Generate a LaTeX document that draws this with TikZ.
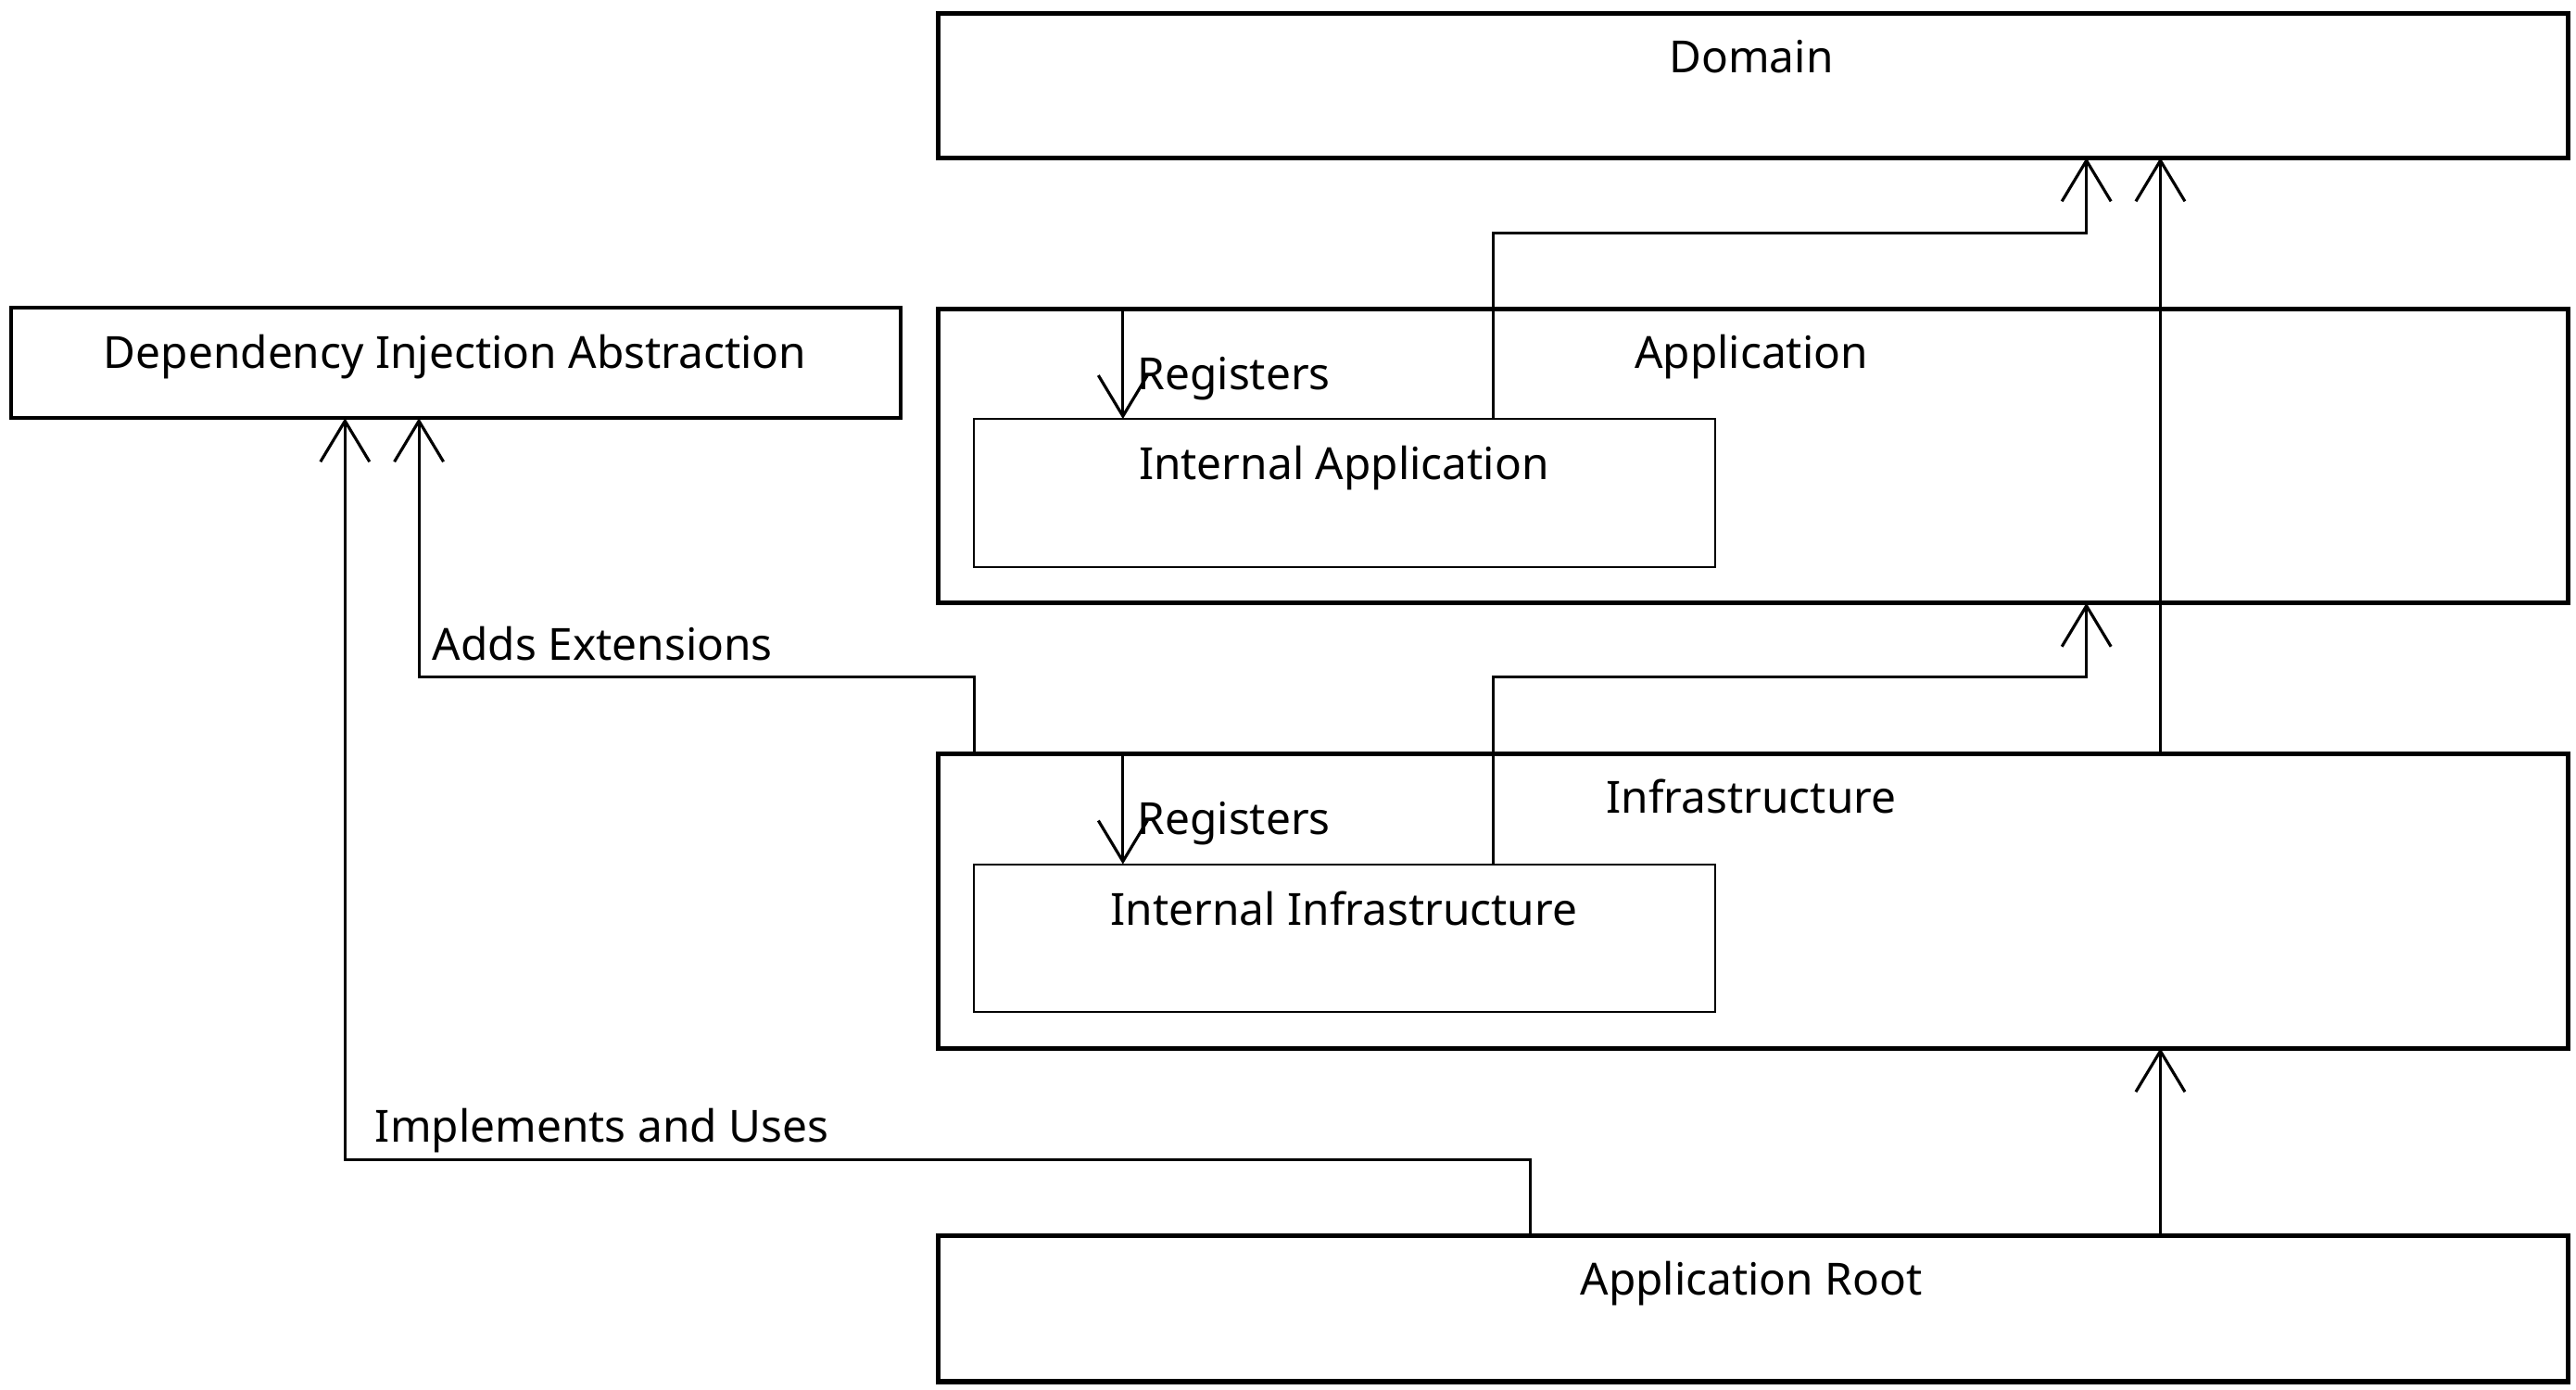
\documentclass[tikz,border=0pt]{standalone}
\usepackage{fontspec}
\setmainfont{Noto Sans}
\usetikzlibrary{arrows.meta}
\newcommand\myu{0.01773cm}
\tikzset{
  bigbox/.style={draw, line width=1.5pt, inner sep=0pt, outer sep=0pt, anchor=north west, minimum width={992*\myu}},
  dibox/.style={draw, line width=1.1pt, inner sep=0pt, outer sep=0pt, anchor=north west},
  inbox/.style={draw, line width=0.55pt, inner sep=0pt, outer sep=0pt, anchor=north west, minimum width={451*\myu}, minimum height={90*\myu}},
  lbl/.style={anchor=base, inner sep=0pt, font=\fontsize{13.6}{16}\selectfont},
  llbl/.style={anchor=base west, inner sep=0pt, font=\fontsize{13.6}{16}\selectfont},
  conn/.style={line width=0.9pt, -{Straight Barb[length=0.44cm, width=0.53cm]}}
}
\begin{document}
\begin{tikzpicture}[x=\myu, y=-\myu]
\useasboundingbox (0,0) rectangle (1568,846);
% boxes
\node[bigbox, minimum height={88*\myu}] (domain) at (571,8) {};
\node[bigbox, minimum height={179*\myu}] (app) at (571,188) {};
\node[bigbox, minimum height={179*\myu}] (infra) at (571,459) {};
\node[bigbox, minimum height={89*\myu}] (root) at (571,752) {};
\node[inbox] (ia) at (593,255) {};
\node[inbox] (ii) at (593,526) {};
\node[dibox, minimum width={541*\myu}, minimum height={67*\myu}] (di) at (7,187.5) {};
% texts
\node[lbl] (tdomain) at (1066,44) {Domain};
\node[lbl] (tapp) at (1066,224) {Application};
\node[lbl] (tia) at (818,292) {Internal Application};
\node[lbl] (tinfra) at (1066,495) {Infrastructure};
\node[lbl] (tii) at (818,563) {Internal Infrastructure};
\node[lbl] (troot) at (1066,788) {Application Root};
\node[lbl] (tdi) at (277,224) {Dependency Injection Abstraction};
% connectors
\coordinate (c1) at (1270,142);
\coordinate (c2) at (1270,412);
\coordinate (c3) at (255,412);
\coordinate (c4) at (210,706);
\draw[conn] (ia.north -| 909,0) |- (c1) -- (domain.south -| c1);
\draw[conn] (infra.north -| 1315,0) -- (domain.south -| 1315,0);
\draw[conn] (app.north -| 683.5,0) -- (ia.north -| 683.5,0);
\node[llbl] (treg1) at (692,237) {Registers};
\draw[conn] (ii.north -| 909,0) |- (c2) -- (app.south -| c2);
\draw[conn] (infra.north -| 683.5,0) -- (ii.north -| 683.5,0);
\node[llbl] (treg2) at (692,508) {Registers};
\draw[conn] (infra.north -| 593,0) |- (c3) -- (di.south -| c3);
\node[llbl] (tadds) at (263,402) {Adds Extensions};
\draw[conn] (root.north -| 931.5,0) |- (c4) -- (di.south -| c4);
\node[llbl] (timpl) at (228,695) {Implements and Uses};
\draw[conn] (root.north -| 1315,0) -- (infra.south -| 1315,0);
\end{tikzpicture}
\end{document}
